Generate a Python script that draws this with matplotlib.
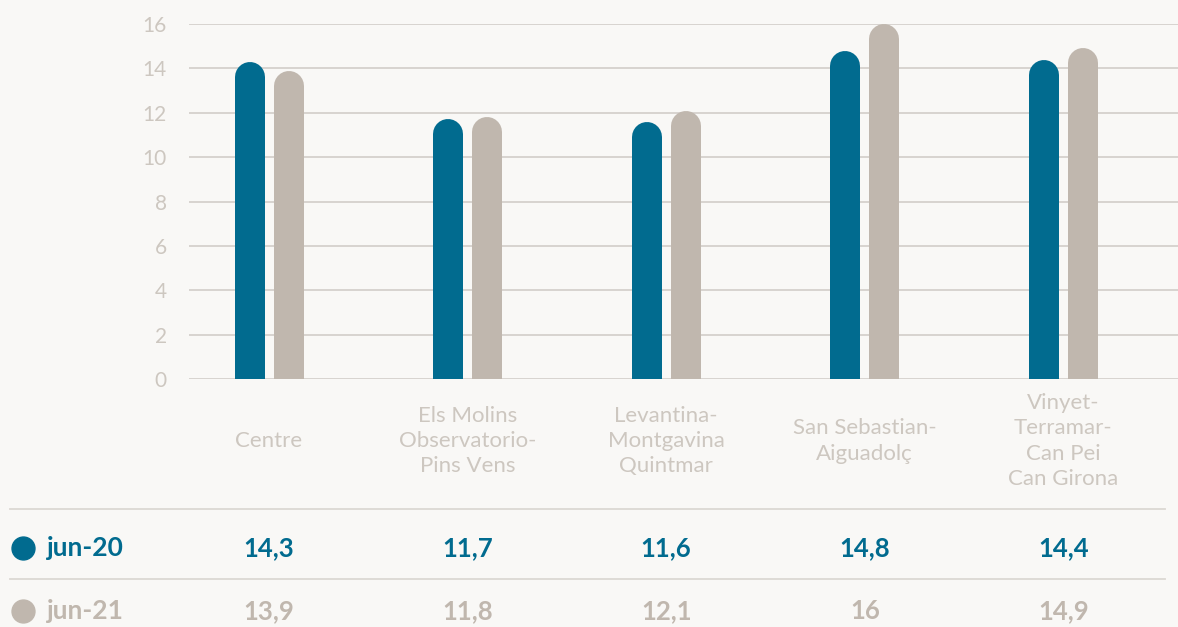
import numpy as np
import matplotlib
matplotlib.use('Agg')
import matplotlib.pyplot as plt
import matplotlib.transforms as mtransforms
from matplotlib.lines import Line2D

# data
categories = ['Centre', 'Els Molins\nObservatorio-\nPins Vens', 'Levantina-\nMontgavina\nQuintmar',
              'San Sebastian-\nAiguadolç', 'Vinyet-\nTerramar-\nCan Pei\nCan Girona']
series_names = ['jun-20', 'jun-21']
jun20 = [14.3, 11.7, 11.6, 14.8, 14.4]
jun21 = [13.9, 11.8, 12.1, 16, 14.9]
yticks = [0, 2, 4, 6, 8, 10, 12, 14, 16]

BLUE = '#016b8f'
GREY = '#c0b7ae'
BG = '#f9f8f6'
GRID = '#d5d1cc'
LIGHT_TXT = '#cdc7c0'

W, H = 1178, 627
plt.rcParams['font.family'] = ['Lato', 'DejaVu Sans']

fig = plt.figure(figsize=(W / 100, H / 100), dpi=100, facecolor=BG)
ax_left, ax_right, ax_top, ax_bot = 189, 1178, 24, 379
ax = fig.add_axes([ax_left / W, 1 - ax_bot / H, (ax_right - ax_left) / W, (ax_bot - ax_top) / H])
ax.set_facecolor(BG)

spacing = 198.6
x = np.arange(len(categories))
ax.set_xlim((ax_left - 269) / spacing, (ax_right - 269) / spacing)
ax.set_ylim(0, 16)

for s in ax.spines.values():
    s.set_visible(False)
ax.set_yticks(yticks)
ax.set_yticklabels([str(t) for t in yticks], fontsize=15, color=LIGHT_TXT)
ax.tick_params(axis='y', length=0, pad=16)
ax.set_xticks([])
ax.yaxis.grid(True, color=GRID, lw=1.3)
ax.set_axisbelow(True)

# rounded bars as thick lines with round caps
bar_px = 30
px_per_unit = (ax_bot - ax_top) / 16
r = (bar_px / 2) / px_per_unit
off = 19.5 / spacing
lw_pt = bar_px * 72 / 100
for vals, col, sgn in [(jun20, BLUE, -1), (jun21, GREY, 1)]:
    for xi, v in zip(x, vals):
        ax.plot([xi + sgn * off, xi + sgn * off], [-1, v - r], color=col, lw=lw_pt,
                solid_capstyle='round', zorder=3)

trans = mtransforms.blended_transform_factory(ax.transData, fig.transFigure)

# category labels
for xi, c in zip(x, categories):
    ax.text(xi, 1 - 441 / H, c, transform=trans, ha='center', va='center',
            fontsize=16, color=LIGHT_TXT, linespacing=1.32)

# table
for yy in [509, 579]:
    fig.add_artist(Line2D([10 / W, 1165 / W], [1 - yy / H, 1 - yy / H], color='#dcd8d3',
                          lw=1.3, transform=fig.transFigure))


def fmt(v):
    return f'{v:g}'.replace('.', ',')


for name, vals, col, yy in [(series_names[0], jun20, BLUE, 548), (series_names[1], jun21, GREY, 611)]:
    fy = 1 - yy / H
    fig.add_artist(Line2D([23 / W], [fy], marker='o', markersize=16.5, color=col,
                          transform=fig.transFigure, lw=0))
    fig.text(47 / W, fy, name, color=col, fontsize=19, fontweight='bold', va='center', ha='left')
    for xi, v in zip(x, vals):
        ax.text(xi, fy, fmt(v), transform=trans, ha='center', va='center',
                fontsize=18.5, fontweight='bold', color=col, clip_on=False)

fig.savefig('out.png', dpi=100, facecolor=BG)
